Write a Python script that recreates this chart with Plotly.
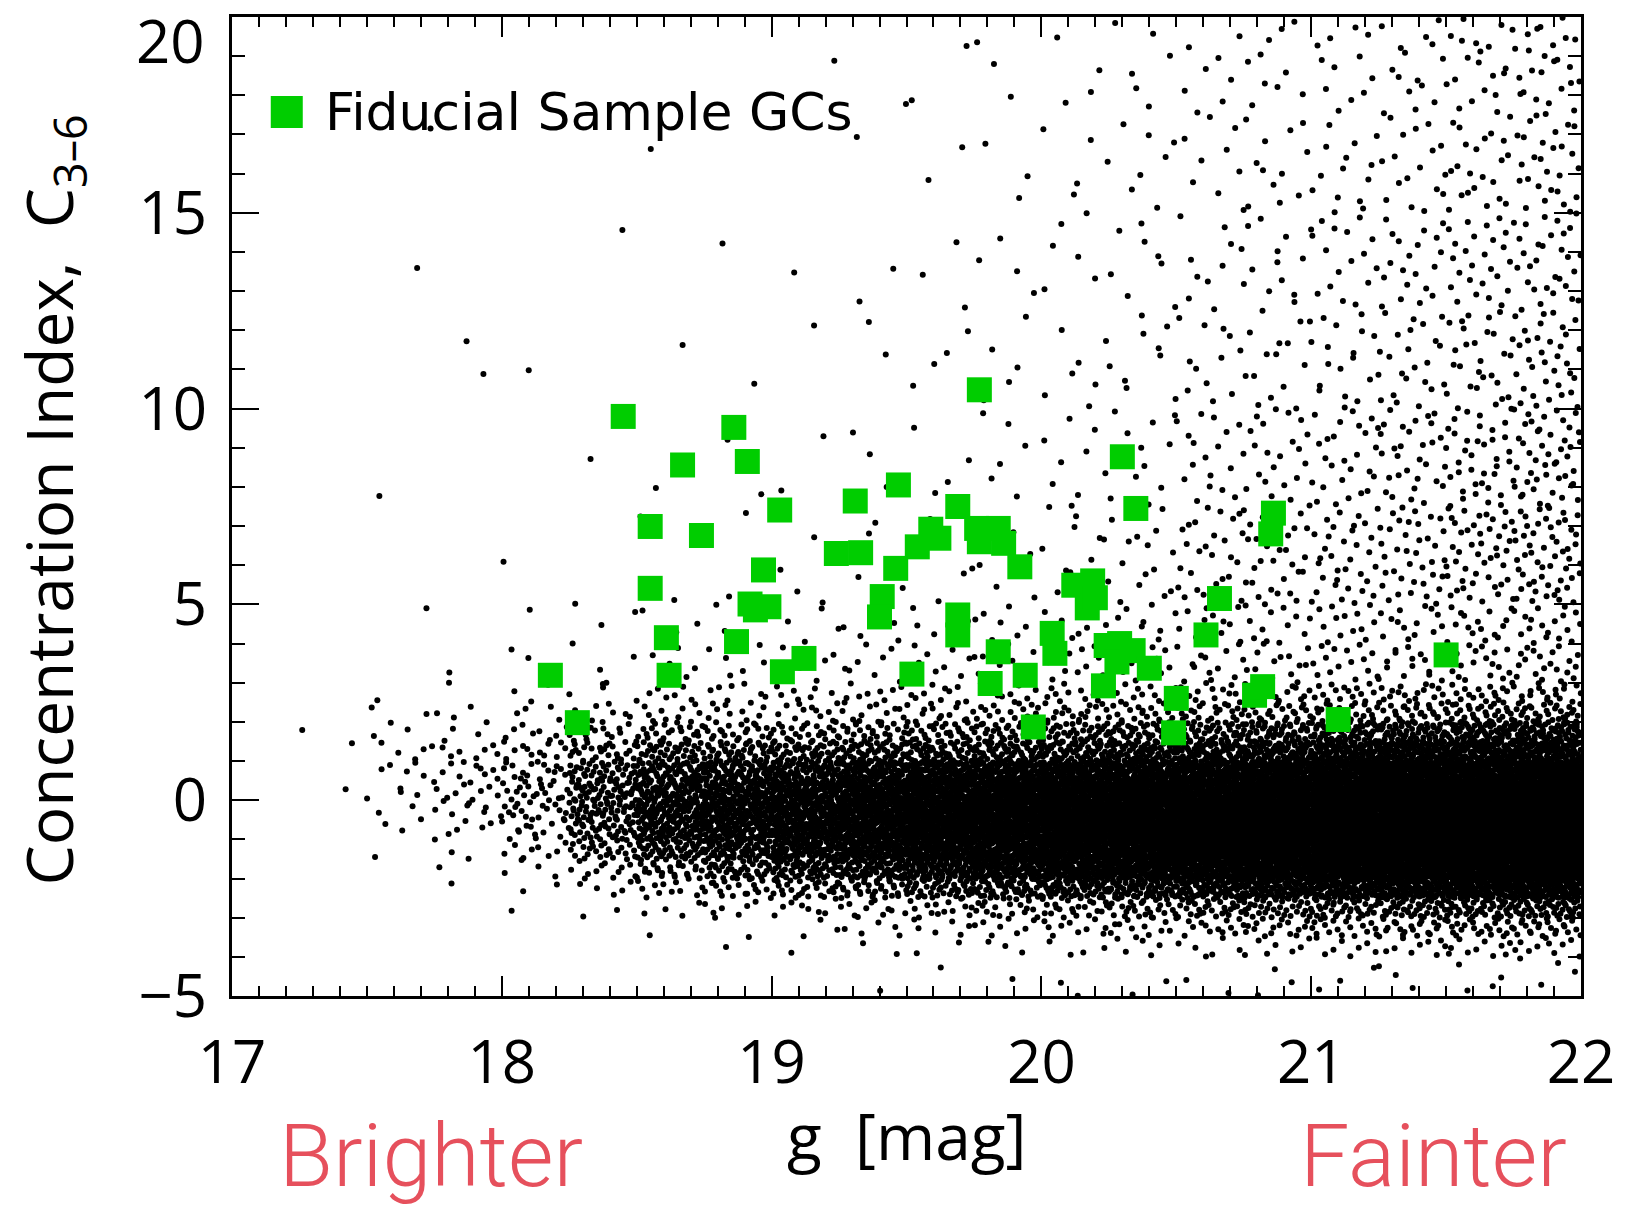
import numpy as np
import plotly.graph_objects as go

# ---------------- Fiducial sample GCs (green squares) ----------------
gc_g = [18.18, 18.28, 18.45, 18.55, 18.55, 18.61, 18.62, 18.67, 18.74, 18.86,
        18.91, 18.87, 18.97, 18.92, 18.94, 18.99, 19.03, 19.04, 19.12, 19.24,
        19.31, 19.33, 19.41, 19.40, 19.47, 19.46, 19.52, 19.54, 19.59, 19.62,
        19.69, 19.69, 19.69, 19.77, 19.76, 19.77, 19.84, 19.86, 19.84, 19.81,
        19.92, 19.94, 19.97, 20.04, 20.05, 20.12, 20.19, 20.17, 20.20, 20.24,
        20.23, 20.29, 20.28, 20.30, 20.35, 20.34, 20.40, 20.50, 20.49, 20.61,
        20.66, 20.79, 20.82, 20.85, 20.86, 21.10, 21.50]
gc_c = [3.19, 1.98, 9.80, 6.99, 5.41, 4.15, 3.19, 8.56, 6.76, 9.52,
        8.65, 4.05, 5.88, 5.01, 4.86, 4.94, 7.41, 3.28, 3.62, 6.30,
        7.64, 6.32, 5.20, 4.68, 8.05, 5.92, 3.22, 6.47, 6.92, 6.69,
        7.50, 4.73, 4.22, 10.48, 6.94, 6.60, 6.94, 6.56, 3.79, 2.98,
        5.96, 3.19, 1.87, 4.26, 3.75, 5.49, 5.60, 4.91, 5.17, 3.95,
        2.92, 4.00, 3.53, 8.77, 7.45, 3.82, 3.37, 2.60, 1.72, 4.22,
        5.15, 2.68, 2.90, 6.80, 7.33, 2.06, 3.71]

# ---------------- Background sources: estimated counts per (g, C) cell ----------------
g_edges = [17.25, 17.5, 17.75, 18.0, 18.25, 18.5, 18.75, 19.0, 19.25, 19.5,
           19.75, 20.0, 20.25, 20.5, 20.75, 21.0, 21.25, 21.5, 21.75, 22.0]
c_edges = [-5, -4, -3.5, -3, -2.5, -2, -1.5, -1, -0.5, 0, 0.5, 1, 1.5, 2, 2.5,
           3, 4, 5, 7.5, 10, 12.5, 15, 17.5, 20]

n_c_m5_m4   = [0, 0, 0, 0, 0, 0, 0, 0, 1, 1, 1, 2, 2, 2, 3, 3, 3, 4, 4]
n_c_m4_m35  = [0, 0, 0, 0, 0, 0, 1, 1, 2, 2, 3, 4, 5, 6, 7, 8, 9, 10, 10]
n_c_m35_m3  = [0, 0, 0, 0, 0, 1, 2, 3, 5, 6, 8, 10, 12, 14, 16, 18, 20, 22, 24]
n_c_m3_m25  = [0, 0, 0, 1, 2, 4, 6, 8, 11, 14, 18, 22, 26, 30, 34, 38, 42, 46, 50]
n_c_m25_m2  = [0, 0, 1, 2, 5, 12, 20, 28, 36, 45, 54, 64, 73, 82, 91, 100, 108, 116, 124]
n_c_m2_m15  = [0, 0, 1, 4, 13, 28, 42, 56, 70, 84, 98, 112, 124, 134, 144, 154, 164, 174, 184]
n_c_m15_m1  = [0, 1, 3, 8, 26, 52, 72, 90, 106, 121, 134, 147, 160, 172, 185, 198, 211, 224, 238]
n_c_m1_m05  = [0, 2, 5, 13, 38, 72, 92, 112, 130, 145, 158, 172, 185, 198, 211, 224, 238, 250, 264]
n_c_m05_0   = [0, 3, 8, 17, 46, 81, 99, 117, 132, 147, 158, 172, 183, 196, 209, 218, 227, 238, 249]
n_c_0_05    = [1, 5, 9, 18, 46, 79, 92, 106, 117, 127, 134, 145, 156, 165, 174, 183, 191, 198, 206]
n_c_05_1    = [0, 5, 9, 16, 38, 64, 72, 80, 88, 96, 102, 110, 118, 126, 134, 140, 148, 154, 160]
n_c_1_15    = [1, 5, 7, 12, 26, 38, 40, 44, 48, 52, 56, 62, 68, 75, 82, 87, 94, 99, 104]
n_c_15_2    = [1, 3, 4, 8, 15, 22, 23, 24, 27, 30, 33, 37, 41, 46, 51, 56, 61, 66, 71]
n_c_2_25    = [0, 2, 3, 4, 7, 10, 10, 11, 12, 14, 15, 17, 19, 21, 23, 25, 27, 29, 31]
n_c_25_3    = [0, 1, 1, 3, 4, 6, 7, 7, 8, 9, 10, 11, 12, 13, 14, 15, 16, 17, 18]
n_c_3_4     = [0, 0, 1, 3, 4, 6, 6, 7, 8, 9, 10, 11, 12, 13, 14, 15, 16, 18, 20]
n_c_4_5     = [0, 1, 0, 1, 2, 3, 4, 4, 5, 6, 7, 8, 9, 11, 12, 13, 14, 16, 18]
n_c_5_75    = [0, 0, 0, 1, 1, 2, 3, 4, 5, 6, 8, 12, 15, 26, 30, 34, 38, 46, 54]
n_c_75_10   = [0, 1, 0, 0, 1, 1, 2, 2, 3, 4, 6, 9, 12, 18, 22, 26, 30, 38, 46]
n_c_10_125  = [0, 0, 2, 1, 0, 1, 1, 1, 2, 4, 5, 7, 9, 12, 15, 18, 22, 28, 34]
n_c_125_15  = [0, 1, 0, 0, 1, 0, 1, 1, 2, 3, 4, 6, 8, 10, 13, 16, 20, 25, 30]
n_c_15_175  = [0, 1, 0, 0, 0, 1, 0, 0, 1, 2, 3, 5, 7, 9, 12, 14, 17, 22, 27]
n_c_175_20  = [0, 0, 0, 0, 0, 0, 0, 1, 1, 2, 3, 4, 6, 8, 10, 12, 15, 20, 25]

count_rows = [n_c_m5_m4, n_c_m4_m35, n_c_m35_m3, n_c_m3_m25, n_c_m25_m2, n_c_m2_m15,
              n_c_m15_m1, n_c_m1_m05, n_c_m05_0, n_c_0_05, n_c_05_1, n_c_1_15,
              n_c_15_2, n_c_2_25, n_c_25_3, n_c_3_4, n_c_4_5, n_c_5_75, n_c_75_10,
              n_c_10_125, n_c_125_15, n_c_15_175, n_c_175_20]

x_ticks = [17, 18, 19, 20, 21, 22]
y_ticks = [-5, 0, 5, 10, 15, 20]
y_tick_text = ["\u22125", "0", "5", "10", "15", "20"]


def radical_inverse(n, base):
    f, r = 1.0, 0.0
    while n > 0:
        f /= base
        r += f * (n % base)
        n //= base
    return r


# spread each cell's count evenly over its cell (Halton low-discrepancy placement)
bg_g, bg_c = [], []
k = 1
for j, row in enumerate(count_rows):
    c0, c1 = c_edges[j], c_edges[j + 1]
    for i, n in enumerate(row):
        g0, g1 = g_edges[i], g_edges[i + 1]
        for m in range(k, k + n):
            bg_g.append(g0 + radical_inverse(m, 2) * (g1 - g0))
            bg_c.append(c0 + radical_inverse(m, 3) * (c1 - c0))
        k += n + 7

fig = go.Figure()
fig.add_trace(go.Scatter(x=bg_g, y=bg_c, mode="markers",
                         marker=dict(color="black", size=6, line=dict(width=0)),
                         showlegend=False, hoverinfo="skip"))
fig.add_trace(go.Scatter(x=gc_g, y=gc_c, mode="markers", name="Fiducial Sample GCs",
                         marker=dict(color="rgb(0,205,0)", size=25, symbol="square",
                                     line=dict(width=0)),
                         showlegend=False))

FONT = "Open Sans, Noto Sans, sans-serif"
tick_font = dict(family=FONT, size=60, color="black")

fig.update_layout(
    width=1627, height=1209,
    margin=dict(l=232, r=39, t=17, b=213),
    paper_bgcolor="white", plot_bgcolor="white",
    showlegend=False,
    xaxis=dict(range=[17, 22], tickvals=x_ticks, ticks="inside", ticklen=20, tickwidth=2,
               tickcolor="black", showgrid=False, zeroline=False, showline=True,
               linecolor="black", linewidth=3, mirror="allticks",
               minor=dict(dtick=0.1, ticks="inside", ticklen=10, tickwidth=2,
                          tickcolor="black", showgrid=False),
               tickfont=tick_font, ticklabelstandoff=12),
    yaxis=dict(range=[-5, 20], tickvals=y_ticks,
               ticktext=y_tick_text[:-1] + [""], ticks="inside", ticklen=27, tickwidth=2,
               tickcolor="black", showgrid=False, zeroline=False, showline=True,
               linecolor="black", linewidth=3, mirror="allticks",
               minor=dict(dtick=1, ticks="inside", ticklen=13, tickwidth=2,
                          tickcolor="black", showgrid=False),
               tickfont=tick_font, ticklabelstandoff=10),
)

# top y tick label, kept inside the page as in the original
fig.add_annotation(x=-0.0184, y=0.9765, xref="paper", yref="paper", xanchor="right",
                   yanchor="middle", showarrow=False, text=y_tick_text[-1], font=tick_font)

# legend (drawn manually to get the large square)
fig.add_shape(type="rect", xref="paper", yref="paper", xsizemode="pixel", ysizemode="pixel",
              xanchor=0.0406, yanchor=0.903, x0=-16, x1=16, y0=-16, y1=16,
              fillcolor="rgb(0,205,0)", line=dict(width=0))
fig.add_annotation(x=0.0678, y=0.903, xref="paper", yref="paper", xanchor="left",
                   yanchor="middle", showarrow=False, text="Fiducial Sample GCs",
                   font=dict(family="DejaVu Sans, Open Sans, sans-serif", size=52,
                             color="black"))

# axis titles
fig.add_annotation(x=-0.1335, y=0.507, xref="paper", yref="paper", textangle=-90,
                   showarrow=False, xanchor="center", yanchor="middle",
                   text="Concentration Index,\u00a0\u00a0C<sub>3\u20136</sub>",
                   font=dict(family=FONT, size=64, color="black"))
fig.add_annotation(x=0.5, y=-0.143, xref="paper", yref="paper", showarrow=False,
                   xanchor="center", yanchor="middle", text="g\u00a0\u00a0[mag]",
                   font=dict(family=FONT, size=64, color="black"))

red_font = dict(family="Roboto, sans-serif", size=88, color="#E6505C", weight=300)
fig.add_annotation(x=0.1475, y=-0.2175, xref="paper", yref="paper", showarrow=False,
                   xanchor="center", yanchor="bottom", text="Brighter", font=red_font)
fig.add_annotation(x=0.8903, y=-0.2175, xref="paper", yref="paper", showarrow=False,
                   xanchor="center", yanchor="bottom", text="Fainter", font=red_font)

fig.write_html("out.html", config={"displayModeBar": False},
               post_script="document.body.style.margin='0';document.body.style.overflow='hidden';")
